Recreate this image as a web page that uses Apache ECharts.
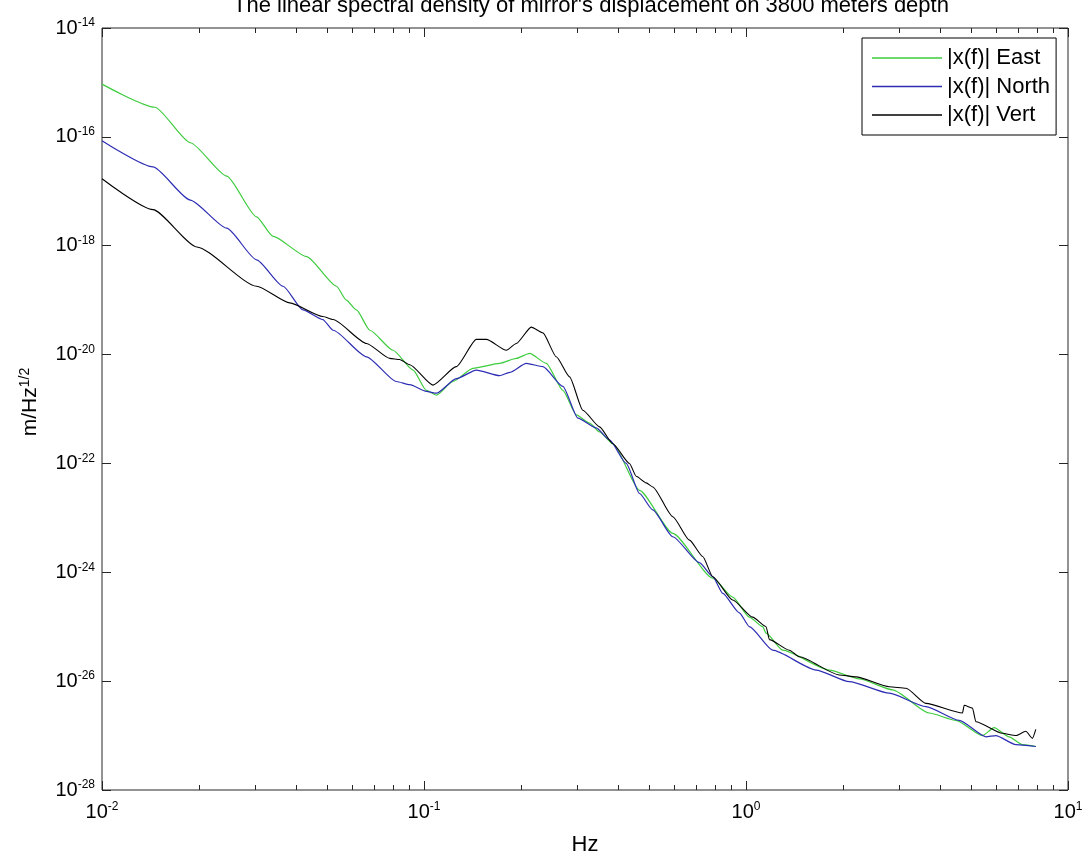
<!DOCTYPE html>
<html><head><meta charset="utf-8">
<script src="https://cdn.jsdelivr.net/npm/echarts@6/dist/echarts.min.js"></script>
<style>html,body{margin:0;padding:0;background:#fff}#c{width:1087px;height:857px}</style>
</head><body><div id="c"></div>
<script>
const titleText = "The linear spectral density of mirror's displacement on 3800 meters depth";
const seriesNames = ['|x(f)| East', '|x(f)| North', '|x(f)| Vert'];
const xAxisName = 'Hz';
const yAxisBase = 'm/Hz';
const yAxisSup = '1/2';

const eastFreq = [0.0100,0.0146,0.0188,0.0244,0.0302,0.0339,0.0432,0.0535,0.0574,0.0617,0.0679,0.0801,0.0925,0.1017,0.1093,0.1230,0.1419,0.1717,0.1935,0.2128,0.2398,0.2700,0.2971,0.3267,0.3509,0.3859,0.4670,0.5924,0.7884,0.9094,1.0245,1.1266,1.1543,1.2996,1.8150,2.2490,2.8530,3.7080,4.4870,5.4240,5.8970,6.5640,7.2200,7.943];
const eastVal = [9.3e-16,3.5e-16,7.8e-17,1.9e-17,3.4e-18,1.5e-18,6.3e-19,1.8e-19,1.0e-19,6.6e-20,2.8e-20,1.2e-20,5.2e-21,2.2e-21,1.8e-21,3.2e-21,5.6e-21,6.9e-21,8.5e-21,1.05e-20,6.9e-21,2.2e-21,7.8e-22,5.5e-22,3.8e-22,2.3e-22,3.2e-23,5.2e-24,7.8e-25,3.5e-25,1.5e-25,1.0e-25,7.6e-26,3.7e-26,1.6e-26,1.1e-26,6.9e-27,2.6e-27,1.9e-27,1.0e-27,1.4e-27,9.5e-28,6.8e-28,6.3e-28];

const northFreq = [0.0100,0.0144,0.0188,0.0244,0.0302,0.0365,0.0421,0.0485,0.0522,0.0663,0.0821,0.0903,0.1017,0.1093,0.1260,0.1454,0.1717,0.1845,0.2078,0.2341,0.2700,0.3005,0.3426,0.3769,0.4246,0.4670,0.5134,0.5924,0.7167,0.7884,0.8467,0.9539,1.0245,1.2100,1.6500,2.0935,2.7862,3.6220,4.5930,5.5590,5.9700,6.8870,7.943];
const northVal = [8.5e-17,2.8e-17,6.9e-18,2.1e-18,5.5e-19,1.8e-19,6.6e-20,4.4e-20,2.8e-20,9.1e-21,3.2e-21,2.8e-21,2.1e-21,1.95e-21,3.6e-21,5.2e-21,4.1e-21,4.7e-21,6.9e-21,6.0e-21,2.6e-21,6.8e-22,4.5e-22,2.7e-22,1.0e-22,2.8e-23,1.4e-23,4.5e-24,1.5e-24,8.3e-25,4.1e-25,1.8e-25,1.0e-25,3.7e-26,1.6e-26,9.8e-27,6.0e-27,3.4e-27,1.9e-27,9.5e-28,1.0e-27,6.8e-28,6.3e-28];

const vertFreq = [0.0100,0.0144,0.0197,0.0302,0.0383,0.0485,0.0522,0.0663,0.0783,0.0840,0.0903,0.1066,0.1260,0.1454,0.1562,0.1802,0.1935,0.2154,0.2341,0.2575,0.2832,0.3113,0.3509,0.3859,0.4347,0.4560,0.4898,0.5134,0.5924,0.6675,0.7338,0.7884,0.9094,1.0489,1.1543,1.1820,1.3634,1.4643,1.9490,2.1960,2.7862,3.1400,3.6220,4.7030,4.7600,5.0500,5.1740,6.2580,6.8870,7.3960,7.7530,7.943];
const vertVal = [1.7e-17,4.6e-18,9.5e-19,1.8e-19,8.9e-20,5.0e-20,4.4e-20,1.6e-20,8.5e-21,8.1e-21,6.5e-21,2.75e-21,6.0e-21,1.9e-20,1.9e-20,1.2e-20,1.6e-20,3.2e-20,2.5e-20,9.1e-21,3.9e-21,9.5e-22,4.7e-22,2.3e-22,1.0e-22,5.8e-23,4.4e-23,3.7e-23,1.05e-23,3.9e-24,1.95e-24,8.3e-25,3.1e-25,1.5e-25,1.0e-25,5.8e-26,3.7e-26,2.8e-26,1.3e-26,1.2e-26,7.9e-27,7.4e-27,3.9e-27,2.6e-27,3.6e-27,3.2e-27,1.8e-27,1.1e-27,1.0e-27,1.2e-27,8.9e-28,1.3e-27];

// axis ranges (decade exponents) and tick steps
const xExpMin = -2, xExpMax = 1, xExpStep = 1;
const yExpMin = -28, yExpMax = -14, yExpStep = 2;
const minorMultipliers = [2,3,4,5,6,7,8,9];

const FONT = "'Liberation Sans', Arial, Helvetica, sans-serif";
const AXIS_COLOR = '#262626';
const colors = ['#3ccc3c', '#2d2db4', '#000000'];

const minorLog = [];
for (let d = xExpMin; d < xExpMax; d++) {
  minorMultipliers.forEach(m => minorLog.push(Math.log10(m) + d));
}

const expLabel = v => '{b|10}{s|' + Math.round(v) + '}';
const richPow = {
  b: { fontSize: 20, fontFamily: FONT, color: '#000', lineHeight: 22 },
  s: { fontSize: 12, fontFamily: FONT, color: '#000', lineHeight: 22, verticalAlign: 'top', padding: [0, 0, 12, 0] }
};

const pairs = (fx, vy) => fx.map((f, i) => [f, vy[i]]);

const hidden = { axisLine: { show: false, onZero: false }, axisTick: { show: false }, axisLabel: { show: false }, splitLine: { show: false } };
const noLine = { show: false, onZero: false };
const tickStyle = { lineStyle: { color: AXIS_COLOR, width: 1 } };

const chart = echarts.init(document.getElementById('c'), null, { renderer: 'canvas' });

chart.setOption({
  animation: false,
  backgroundColor: '#fff',
  color: colors,
  title: {
    text: titleText,
    left: 586, textAlign: 'center', top: -10,
    textStyle: { fontSize: 22, fontWeight: 'normal', fontFamily: FONT, color: '#000' }
  },
  grid: { left: 102, right: 19, top: 28, bottom: 67, outerBoundsMode: 'none', containLabel: false, show: true, borderColor: AXIS_COLOR, borderWidth: 1, backgroundColor: 'transparent' },
  legend: {
    data: seriesNames,
    orient: 'vertical', left: 862, top: 38,
    icon: 'rect', itemWidth: 70, itemHeight: 1.5, itemGap: 4.5,
    padding: [8, 6, 8, 10],
    borderColor: '#000', borderWidth: 1, backgroundColor: '#fff',
    textStyle: { fontSize: 22, fontFamily: FONT, color: '#000', lineHeight: 24 }
  },
  xAxis: [
    Object.assign({}, hidden, { type: 'log', logBase: 10, min: Math.pow(10, xExpMin), max: Math.pow(10, xExpMax), position: 'bottom' }),
    {
      type: 'value', min: xExpMin, max: xExpMax, interval: xExpStep, position: 'bottom',
      name: xAxisName, nameLocation: 'middle', nameGap: 44,
      nameTextStyle: { fontSize: 22, fontFamily: FONT, color: '#000' },
      axisLine: noLine, splitLine: { show: false },
      axisTick: Object.assign({ inside: true, length: 9 }, tickStyle),
      axisLabel: { formatter: expLabel, rich: richPow, margin: 11 }
    },
    {
      type: 'value', min: xExpMin, max: xExpMax, position: 'bottom',
      axisLine: noLine, splitLine: { show: false }, axisLabel: { show: false },
      axisTick: Object.assign({ inside: true, length: 5, customValues: minorLog }, tickStyle)
    },
    {
      type: 'value', min: xExpMin, max: xExpMax, interval: xExpStep, position: 'top',
      axisLine: noLine, splitLine: { show: false }, axisLabel: { show: false },
      axisTick: Object.assign({ inside: true, length: 9 }, tickStyle)
    },
    {
      type: 'value', min: xExpMin, max: xExpMax, position: 'top',
      axisLine: noLine, splitLine: { show: false }, axisLabel: { show: false },
      axisTick: Object.assign({ inside: true, length: 5, customValues: minorLog }, tickStyle)
    }
  ],
  yAxis: [
    Object.assign({}, hidden, { type: 'log', logBase: 10, min: Math.pow(10, yExpMin), max: Math.pow(10, yExpMax), position: 'left' }),
    {
      type: 'value', min: yExpMin, max: yExpMax, interval: yExpStep, position: 'left',
      name: '{b|' + yAxisBase + '}{s|' + yAxisSup + '}', nameLocation: 'middle', nameRotate: 90, nameGap: 60,
      nameTextStyle: { padding: [0, 0, 0, 14], rich: {
        b: { fontSize: 21, fontFamily: FONT, color: '#000', lineHeight: 24 },
        s: { fontSize: 14, fontFamily: FONT, color: '#000', lineHeight: 24, verticalAlign: 'top', padding: [0, 0, 12, 0] }
      } },
      axisLine: noLine, splitLine: { show: false },
      axisTick: Object.assign({ inside: true, length: 9 }, tickStyle),
      axisLabel: { formatter: expLabel, rich: richPow, margin: 7 }
    },
    {
      type: 'value', min: yExpMin, max: yExpMax, interval: yExpStep, position: 'right',
      axisLine: noLine, splitLine: { show: false }, axisLabel: { show: false },
      axisTick: Object.assign({ inside: true, length: 9 }, tickStyle)
    }
  ],
  series: [
    { name: seriesNames[0], type: 'line', xAxisIndex: 0, yAxisIndex: 0, data: pairs(eastFreq, eastVal), showSymbol: false, symbol: 'none', smooth: 0.2, smoothMonotone: 'x', lineStyle: { width: 1.2 } },
    { name: seriesNames[1], type: 'line', xAxisIndex: 0, yAxisIndex: 0, data: pairs(northFreq, northVal), showSymbol: false, symbol: 'none', smooth: 0.2, smoothMonotone: 'x', lineStyle: { width: 1.2 } },
    { name: seriesNames[2], type: 'line', xAxisIndex: 0, yAxisIndex: 0, data: pairs(vertFreq, vertVal), showSymbol: false, symbol: 'none', smooth: 0.2, smoothMonotone: 'x', lineStyle: { width: 1.1 } }
  ]
});
</script></body></html>
